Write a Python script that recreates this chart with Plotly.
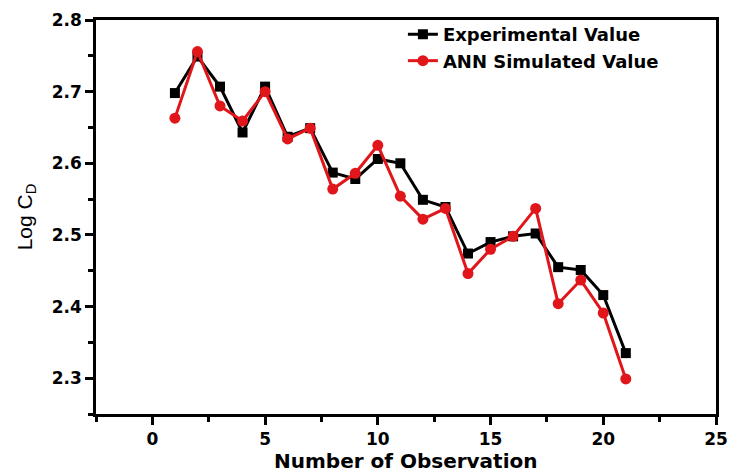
import plotly.graph_objects as go

observation = list(range(1, 22))
experimental = [2.698, 2.749, 2.707, 2.643, 2.707, 2.637, 2.649, 2.587, 2.578, 2.606,
                2.600, 2.549, 2.539, 2.474, 2.490, 2.498, 2.502, 2.455, 2.451, 2.416, 2.335]
ann_simulated = [2.663, 2.756, 2.680, 2.659, 2.700, 2.634, 2.649, 2.564, 2.586, 2.625,
                 2.554, 2.522, 2.537, 2.446, 2.480, 2.498, 2.537, 2.404, 2.437, 2.391, 2.299]

bold_family = "DejaVu Sans, Liberation Sans, Arial, sans-serif"
plain_family = "Liberation Sans, Arial, sans-serif"

fig = go.Figure()
fig.add_trace(go.Scatter(
    x=observation, y=experimental, mode="lines+markers",
    name="<b>Experimental Value</b>",
    line=dict(color="#000000", width=3),
    marker=dict(symbol="square", size=10, color="#000000"),
))
fig.add_trace(go.Scatter(
    x=observation, y=ann_simulated, mode="lines+markers",
    name="<b>ANN Simulated Value</b>",
    line=dict(color="#e0161b", width=3),
    marker=dict(symbol="circle", size=11, color="#e0161b"),
))

axis_common = dict(
    showline=True, linecolor="#000000", linewidth=2.5, mirror=True,
    ticks="outside", tickwidth=2.5, ticklen=8, tickcolor="#000000",
    showgrid=False, zeroline=False, automargin=False,
    tickfont=dict(family=bold_family, size=17, color="#000000", weight="bold"),
)

fig.update_layout(
    width=738, height=474,
    margin=dict(l=96, r=22, t=20, b=60),
    paper_bgcolor="white", plot_bgcolor="white",
    font=dict(family=bold_family, color="#000000"),
    xaxis=dict(
        range=[-2.5, 25], tickvals=[0, 5, 10, 15, 20, 25],
        minor=dict(tickvals=[-2.5, 2.5, 7.5, 12.5, 17.5, 22.5], ticks="outside",
                   ticklen=5, tickwidth=2.5, tickcolor="#000000"),
        **axis_common,
    ),
    yaxis=dict(
        range=[2.25, 2.8], tickvals=[2.3, 2.4, 2.5, 2.6, 2.7, 2.8],
        ticktext=["2.3", "2.4", "2.5", "2.6", "2.7", "2.8"],
        minor=dict(tickvals=[2.25, 2.35, 2.45, 2.55, 2.65, 2.75], ticks="outside",
                   ticklen=5, tickwidth=2.5, tickcolor="#000000"),
        title=dict(text="Log C<sub>D</sub>", standoff=14,
                   font=dict(family=plain_family, size=21, color="#000000")),
        **axis_common,
    ),
    legend=dict(
        x=0.495, y=1.01, xanchor="left", yanchor="top",
        bgcolor="rgba(0,0,0,0)", borderwidth=0,
        font=dict(family=bold_family, size=18, color="#000000"),
        tracegroupgap=0,
    ),
    annotations=[dict(
        text="<b>Number of Observation</b>", showarrow=False,
        xref="paper", yref="paper", x=0.5, y=-0.119,
        xanchor="center", yanchor="middle",
        font=dict(family=bold_family, size=20, color="#000000"),
    )],
)

fig.write_html("out.html")
